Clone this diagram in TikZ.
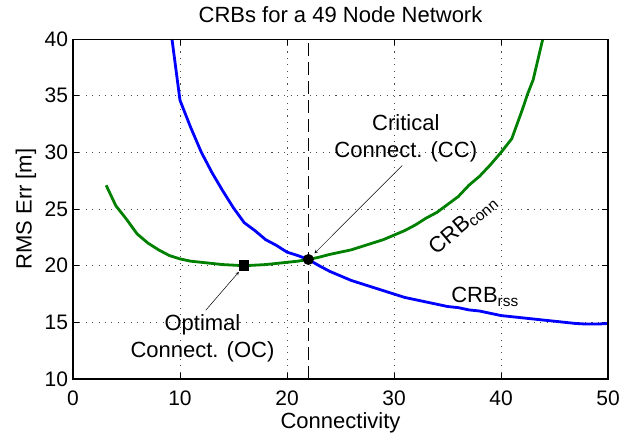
\documentclass[tikz,border=0pt]{standalone}
\usepackage{fontspec}
\setmainfont{Liberation Sans}
\usetikzlibrary{positioning}
\definecolor{rssblue}{RGB}{0,0,255}
\definecolor{conngreen}{RGB}{0,128,0}

\begin{document}
\begin{tikzpicture}[x=10.7pt, y=11.33pt, >=stealth, every node/.style={font=\fontsize{22}{27}\selectfont}]
\tikzstyle{gridline}=[black!70, line width=0.9pt, dash pattern=on 1.1pt off 5.3pt]
\tikzstyle{curve}=[line width=2.8pt, line join=round]
\tikzstyle{ticklabel}=[inner sep=0pt, font=\fontsize{21}{25}\selectfont]
\tikzstyle{note}=[align=center, inner sep=0pt]
\tikzstyle{pointer}=[->, line width=0.5pt]
\tikzstyle{marker}=[fill=black, inner sep=0pt, minimum size=10.5pt]
\useasboundingbox (-6.82,4.97) rectangle (53.08,43.45);
\foreach \gx in {10,20,30,40} \draw[gridline] (\gx,10) -- (\gx,40);
\foreach \gy in {15,20,...,35} \draw[gridline] (0,\gy) -- (50,\gy);
\draw[line width=1pt, dash pattern=on 13pt off 6pt] (22,10) -- (22,40);
\foreach \gx in {0,10,...,50} {
  \draw[line width=0.8pt] (\gx,10) -- ++(0pt,6pt) (\gx,40) -- ++(0pt,-6pt);
  \node[ticklabel, anchor=north] (xt\gx) at (\gx,8.94) {\gx};
}
\foreach \gy in {10,15,...,40} {
  \draw[line width=0.8pt] (0,\gy) -- ++(6pt,0pt) (50,\gy) -- ++(-6pt,0pt);
  \node[ticklabel, anchor=east] (yt\gy) at (-0.45,\gy) {\gy};
}
\draw[curve, rssblue] plot coordinates {(9.25,40) (10,34.6) (11,32.2) (12,30.0) (13,28.2) (14,26.6) (15,25.1) (16,23.8) (17,23.1) (18,22.3) (19,21.8) (20,21.2) (21,20.9) (22,20.55) (23,20.0) (24,19.5) (25,19.1) (26,18.7) (27,18.4) (28,18.1) (29,17.8) (30,17.5) (31,17.2) (32,17.0) (33,16.8) (34,16.6) (35,16.4) (36,16.3) (37,16.1) (38,16.0) (39,15.8) (40,15.6) (41,15.5) (42,15.4) (43,15.3) (44,15.2) (45,15.1) (46,15.0) (47,14.9) (48,14.85) (49,14.85) (50,14.9)};
\draw[curve, conngreen] plot coordinates {(3.1,27.1) (4,25.3) (5,24.1) (6,22.8) (7,22.0) (8,21.4) (9,20.9) (10,20.6) (11,20.4) (12,20.3) (13,20.2) (14,20.1) (15,20.05) (16,20.0) (17,20.05) (18,20.1) (19,20.2) (20,20.3) (21,20.4) (22,20.55) (23,20.75) (24,21.0) (25,21.2) (26,21.4) (27,21.7) (28,22.0) (29,22.3) (30,22.7) (31,23.1) (32,23.6) (33,24.2) (34,24.7) (35,25.4) (36,26.1) (37,27.1) (38,27.9) (39,28.9) (40,30.0) (41,31.2) (42,33.8) (42.5,35.2) (43,36.4) (43.9,40)};
\draw[line width=1.1pt] (0,10) rectangle (50,40);
\node[marker, rectangle] (ocpt) at (16,20) {};
\node[marker, circle, minimum size=11pt] (ccpt) at (22,20.55) {};
\node[anchor=base] (title) at (25,41.42) {CRBs for a 49 Node Network};
\node[anchor=base] (xlab) at (25,5.66) {Connectivity};
\node[rotate=90] (ylab) at (-4.4,25) {RMS Err [m]};
\node[note] (cctext) at (31.1,31.27) {Critical\\Connect. (CC)};
\node[note] (octext) at (12.1,13.62) {Optimal\\Connect. (OC)};
\node[rotate=40, inner sep=0pt] (connlabel) at (36.45,23.6) {CRB\textsubscript{conn}};
\node[anchor=base west, inner sep=0pt] (rsslabel) at (35.33,16.71) {CRB\textsubscript{rss}};
\draw[pointer, shorten <=5pt, shorten >=3pt] (cctext.south) -- (ccpt);
\draw[pointer, shorten <=5pt, shorten >=1pt] (octext.north) -- (ocpt);
\end{tikzpicture}
\end{document}
